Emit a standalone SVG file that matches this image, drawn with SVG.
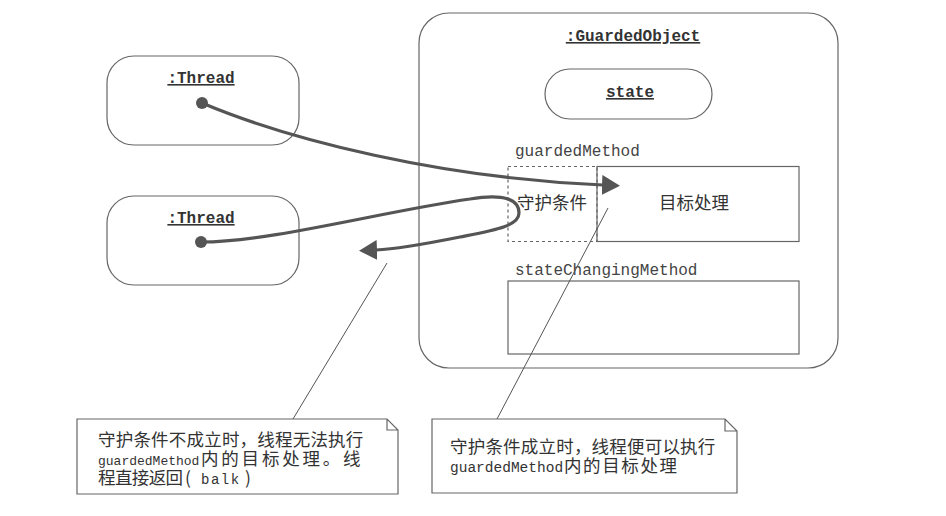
<svg xmlns="http://www.w3.org/2000/svg" width="946" height="516" viewBox="0 0 946 516">
<style>
.box{fill:none;stroke:#666;stroke-width:1.2}
.dash{fill:none;stroke:#666;stroke-width:1.2;stroke-dasharray:3 3}
.lbl{font-family:"Liberation Mono","DejaVu Sans Mono",monospace;font-weight:bold;font-size:16px;fill:#333;text-decoration:underline}
.mono{font-family:"Liberation Mono","DejaVu Sans Mono",monospace;font-size:16px;fill:#444}
.cjk{font-family:"Noto Sans CJK SC","Noto Sans",sans-serif;font-size:17.5px;fill:#333}
.nmono{font-family:"Liberation Mono","DejaVu Sans Mono",monospace;font-size:14px;fill:#333}
.flow{fill:none;stroke:#555;stroke-width:3.2;stroke-linecap:round}
.lead{fill:none;stroke:#555;stroke-width:1}
.dot{fill:#555}
</style>
<defs>
<marker id="ah" markerUnits="userSpaceOnUse" viewBox="0 0 18 20" markerWidth="18" markerHeight="20" refX="1" refY="10" orient="auto">
<path d="M0,0 L18,10 L0,20 z" fill="#555"/>
</marker>
</defs>
<rect width="946" height="516" fill="#fff"/>

<g id="guardedObject">
<rect class="box" x="419" y="13" width="419" height="355" rx="30"/>
<text class="lbl" x="633" y="41" text-anchor="middle">:GuardedObject</text>
</g>
<g id="state">
<rect class="box" x="545" y="69" width="167" height="50" rx="25"/>
<text class="lbl" x="630" y="97" text-anchor="middle">state</text>
</g>
<g id="guardedMethod">
<text class="mono" x="515" y="156">guardedMethod</text>
<rect class="dash" x="508" y="166.5" width="89" height="75"/>
<text class="cjk" x="517" y="209">守护条件</text>
<rect class="box" x="597" y="166.5" width="202" height="75"/>
<text class="cjk" x="659" y="209">目标处理</text>
</g>
<g id="stateChangingMethod">
<text class="mono" x="515" y="275">stateChangingMethod</text>
<rect class="box" x="508" y="281" width="291" height="73"/>
</g>
<g id="thread1">
<rect class="box" x="107" y="56" width="192" height="89" rx="27"/>
<text class="lbl" x="201" y="83" text-anchor="middle">:Thread</text>
</g>
<g id="thread2">
<rect class="box" x="107" y="196" width="192" height="89" rx="27"/>
<text class="lbl" x="201" y="223" text-anchor="middle">:Thread</text>
</g>
<g id="note1">
<path class="box" d="M77,419 H387 L398,430 V494 H77 Z M387,419 V430 H398"/>
<text class="cjk" x="98" y="446" letter-spacing="0.2">守护条件不成立时，线程无法执行</text>
<text class="nmono" x="98" y="465" style="font-size:13px">guardedMethod</text>
<text class="cjk" x="201" y="465" letter-spacing="2.8">内的目标处理。线</text>
<text class="cjk" x="98" y="484" letter-spacing="-0.6">程直接返回</text>
<text class="cjk" x="185" y="484">(</text>
<text class="nmono" x="201" y="484" letter-spacing="1.5">balk</text>
<text class="cjk" x="245" y="484">)</text>
</g>
<g id="note2">
<path class="box" d="M432,419 H725 L737,431 V493 H432 Z M725,419 V431 H737"/>
<text class="cjk" x="450" y="453" letter-spacing="0.2">守护条件成立时，线程便可以执行</text>
<text class="nmono" x="450" y="472" style="font-size:14.5px">guardedMethod</text>
<text class="cjk" x="564" y="472" letter-spacing="1.6">内的目标处理</text>
</g>

<g id="connectors">
<circle class="dot" cx="202" cy="103" r="6"/>
<path class="flow" marker-end="url(#ah)" d="M202,103 C290,140 440,178 603,185"/>
<circle class="dot" cx="201" cy="242" r="6"/>
<path class="flow" marker-end="url(#ah)" d="M201,242 C270,242 380,212 470,199 C505,193 519,200 519,213 C519,226 495,230 460,237 C430,243 400,249 376,250"/>
<line class="lead" x1="387" y1="263" x2="293" y2="419"/>
<line class="lead" x1="608" y1="208" x2="497" y2="419"/>
</g>
</svg>
